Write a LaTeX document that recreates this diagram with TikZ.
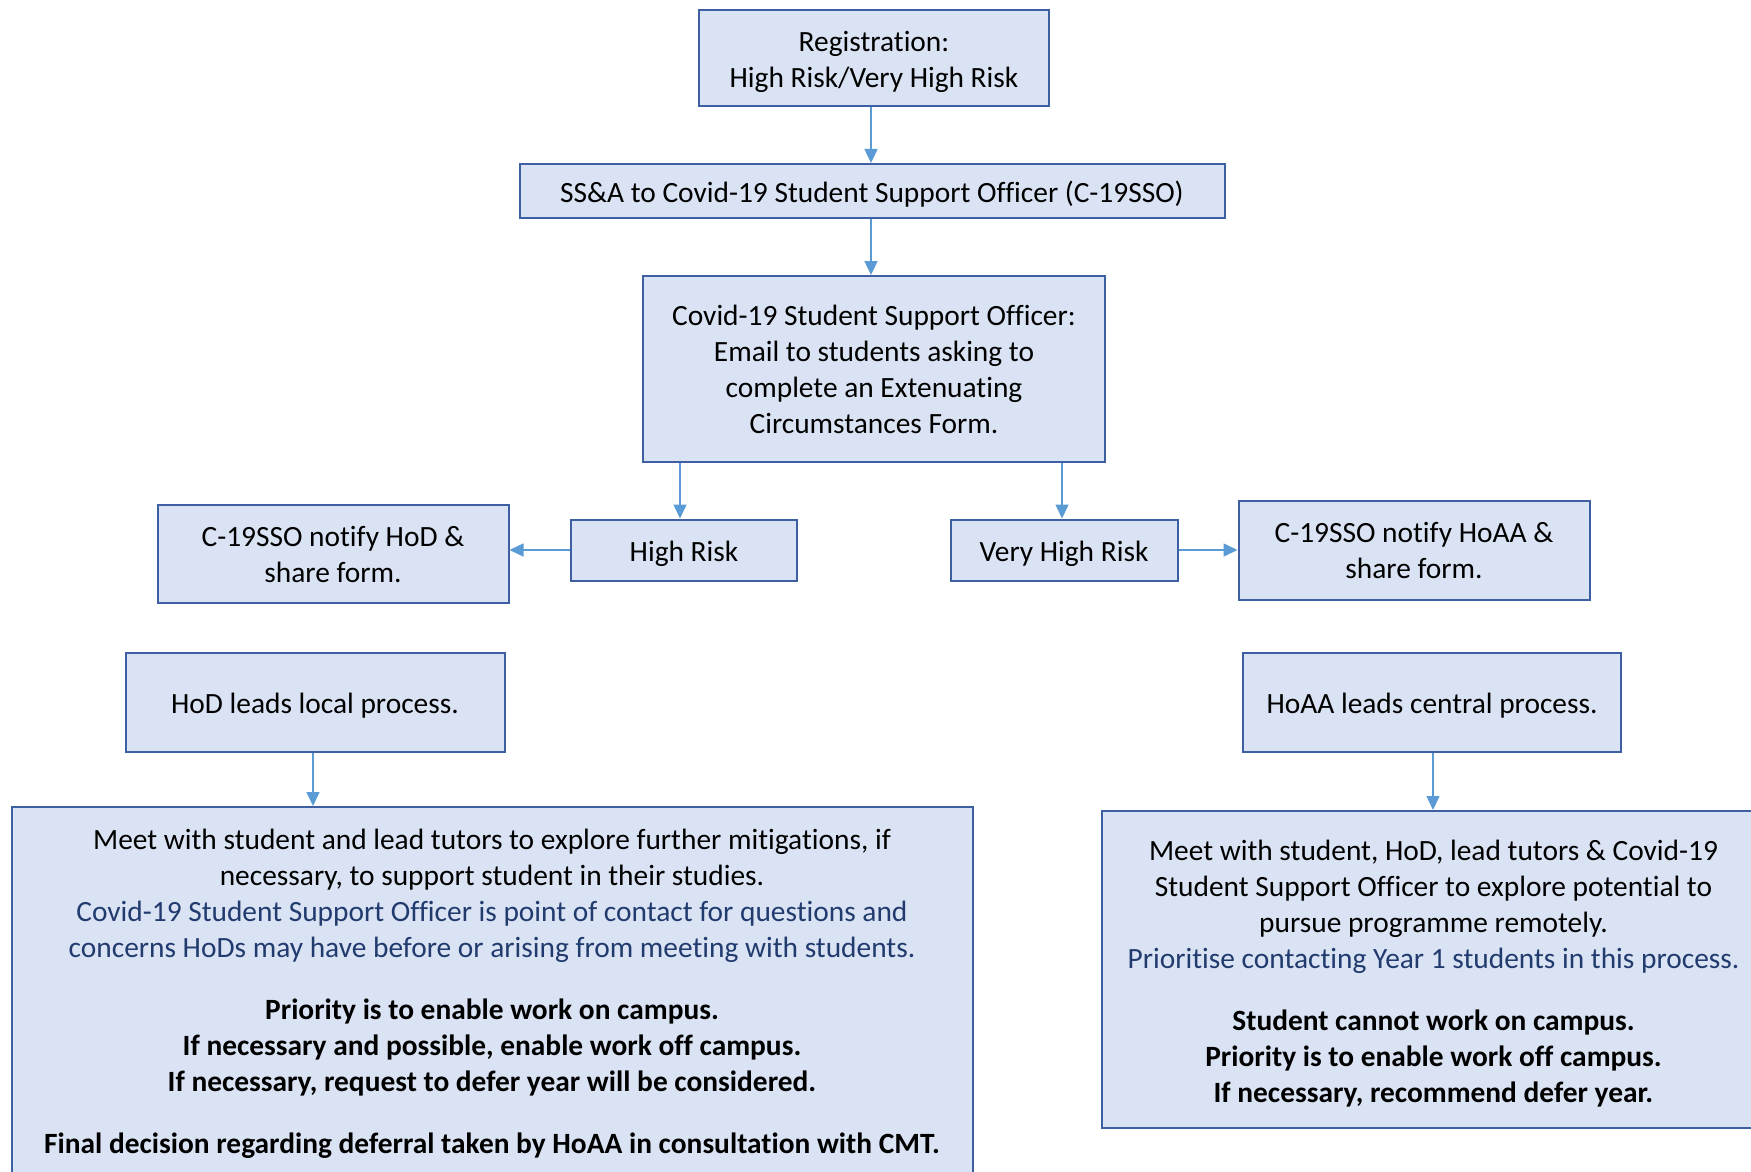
\documentclass[tikz,border=0pt]{standalone}
\usepackage{fontspec}
\setmainfont{Carlito}[Ligatures=NoCommon]
\usetikzlibrary{arrows.meta, positioning}
\definecolor{boxfill}{HTML}{DAE3F3}
\definecolor{boxline}{HTML}{3F5FA3}
\definecolor{arrline}{HTML}{5B9BD5}
\definecolor{notetext}{HTML}{213B6E}
\newcommand{\topstrut}{\rule{0pt}{14.4pt}}
\tikzstyle{blk}=[draw=boxline,fill=boxfill,line width=1pt,align=center,inner sep=0pt,font=\fontsize{14.7}{18}\selectfont,execute at begin node={\rule{0pt}{14pt}}]
\tikzstyle{arr}=[draw=arrline,line width=0.75pt,-{Triangle[width=6.5pt,length=7pt]}]

\begin{document}
\begin{tikzpicture}[x=0.5pt,y=-0.5pt]
\useasboundingbox (0,0) rectangle (1751,1172);
% top chain
\node[blk,minimum width=175pt,minimum height=48pt] (reg) at (874,58) {\topstrut Registration:\\High Risk/Very High Risk};
\node[blk,minimum width=352.5pt,minimum height=27pt] (ssa) at (872,191) {SS\&A to Covid-19 Student Support Officer (C-19SSO)};
\node[blk,minimum width=231pt,minimum height=93pt] (officer) at (874,369) {Covid-19 Student Support Officer:\\Email to students asking to\\complete an Extenuating\\Circumstances Form.};
% risk levels
\node[blk,minimum width=113pt,minimum height=30.5pt] (high) at (684,550) {High Risk};
\node[blk,minimum width=113.5pt,minimum height=30.5pt] (veryhigh) at (1064,550) {Very High Risk};
\node[blk,minimum width=175.5pt,minimum height=49pt] (notifyhod) at (333,554) {C-19SSO notify HoD \&\\share form.};
\node[blk,minimum width=175.5pt,minimum height=49.5pt] (notifyhoaa) at (1414,550) {C-19SSO notify HoAA \&\\share form.};
% processes
\node[blk,minimum width=189.5pt,minimum height=49.5pt] (hodlead) at (315,702) {HoD leads local process.};
\node[blk,minimum width=189pt,minimum height=49.5pt] (hoaalead) at (1432,702) {HoAA leads central process.};
\node[blk,anchor=north,minimum width=480.5pt,inner ysep=11.2pt] (local) at (492,806) {Meet with student and lead tutors to explore further mitigations, if\\necessary, to support student in their studies.\\
{\color{notetext}Covid-19 Student Support Officer is point of contact for questions and}\\
{\color{notetext}concerns HoDs may have before or arising from meeting with students.}\\[13pt]
\textbf{Priority is to enable work on campus.}\\
\textbf{If necessary and possible, enable work off campus.}\\
\textbf{If necessary, request to defer year will be considered.}\\[13pt]
\textbf{Final decision regarding deferral taken by HoAA in consultation with CMT.}};
\node[blk,minimum width=331.5pt,minimum height=158.5pt] (central) at (1433.5,969.5) {\topstrut Meet with student, HoD, lead tutors \& Covid-19\\Student Support Officer to explore potential to\\pursue programme remotely.\\
{\color{notetext}Prioritise contacting Year 1 students in this process.}\\[13pt]
\textbf{Student cannot work on campus.}\\
\textbf{Priority is to enable work off campus.}\\
\textbf{If necessary, recommend defer year.}};
% connectors
\draw[arr] (reg.south -| 871,0) -- (ssa.north -| 871,0);
\draw[arr] (ssa.south -| 871,0) -- (officer.north -| 871,0);
\draw[arr] (officer.south -| 680,0) -- (high.north -| 680,0);
\draw[arr] (officer.south -| 1062,0) -- (veryhigh.north -| 1062,0);
\draw[arr] (high.west) -- (notifyhod.east |- high.west);
\draw[arr] (veryhigh.east) -- (notifyhoaa.west |- veryhigh.east);
\draw[arr] (hodlead.south -| 313,0) -- (local.north -| 313,0);
\draw[arr] (hoaalead.south -| 1433,0) -- (central.north -| 1433,0);
\end{tikzpicture}
\end{document}
